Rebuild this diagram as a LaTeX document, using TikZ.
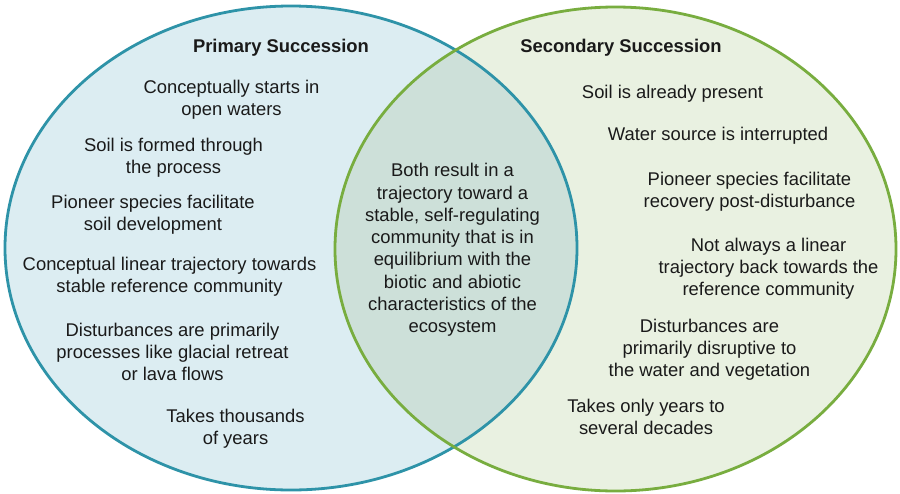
\documentclass[tikz,border=0pt]{standalone}
\usepackage{fontspec}
\setmainfont{Liberation Sans}
\definecolor{bluefill}{HTML}{DCEDF2}
\definecolor{greenfill}{HTML}{E9F1E1}
\definecolor{midfill}{HTML}{CDE0D9}
\definecolor{blueline}{HTML}{2E93A8}
\definecolor{greenline}{HTML}{78AD3F}
\definecolor{textcol}{HTML}{1A1A1A}
\tikzset{
  txt/.style={font=\fontsize{18.4}{22}\selectfont, align=center, inner sep=0pt, text=textcol,
    execute at begin node=\strut, execute at end node=\strut},
  midtxt/.style={txt, font=\fontsize{18.4}{22.3}\selectfont},
  ttl/.style={txt, font=\fontsize{18.4}{22}\selectfont\bfseries},
  outline/.style={line width=2.8pt}
}
\begin{document}
\begin{tikzpicture}[x=1pt,y=-1pt]
\useasboundingbox (0,0) rectangle (900,493);
\fill[white] (0,0) rectangle (900,493);
% fills
\fill[bluefill] (291,248) ellipse [x radius=286, y radius=242];
\fill[greenfill] (615.5,249) ellipse [x radius=280.5, y radius=242];
\begin{scope}
  \clip (291,248) ellipse [x radius=286, y radius=242];
  \fill[midfill] (615.5,249) ellipse [x radius=280.5, y radius=242];
\end{scope}
% outlines
\draw[outline, blueline] (291,248) ellipse [x radius=286, y radius=242];
\draw[outline, greenline] (615.5,249) ellipse [x radius=280.5, y radius=242];
% titles
\node[ttl] (tprim) at (281,48) {Primary Succession};
\node[ttl] (tsec) at (621,48) {Secondary Succession};
% left texts
\node[txt] (l1) at (231.5,101) {Conceptually starts in\\open waters};
\node[txt] (l2) at (173.5,159) {Soil is formed through\\the process};
\node[txt] (l3) at (153,216.5) {Pioneer species facilitate\\soil development};
\node[txt] (l4) at (169.5,278.5) {Conceptual linear trajectory towards\\stable reference community};
\node[txt] (l5) at (172.5,355.5) {Disturbances are primarily\\processes like glacial retreat\\or lava flows};
\node[txt] (l6) at (235.5,430) {Takes thousands\\of years};
% middle
\node[midtxt] (m) at (452.5,251.5) {Both result in a\\trajectory toward a\\stable, self-regulating\\community that is in\\equilibrium with the\\biotic and abiotic\\characteristics of the\\ecosystem};
% right texts
\node[txt] (r1) at (672.5,94.5) {Soil is already present};
\node[txt] (r2) at (718,136.5) {Water source is interrupted};
\node[txt] (r3) at (749.5,193) {Pioneer species facilitate\\recovery post-disturbance};
\node[txt] (r4) at (768.5,270) {Not always a linear\\trajectory back towards the\\reference community};
\node[txt] (r5) at (709.5,351.5) {Disturbances are\\primarily disruptive to\\the water and vegetation};
\node[txt] (r6) at (646,420.5) {Takes only years to\\several decades};
\end{tikzpicture}
\end{document}
